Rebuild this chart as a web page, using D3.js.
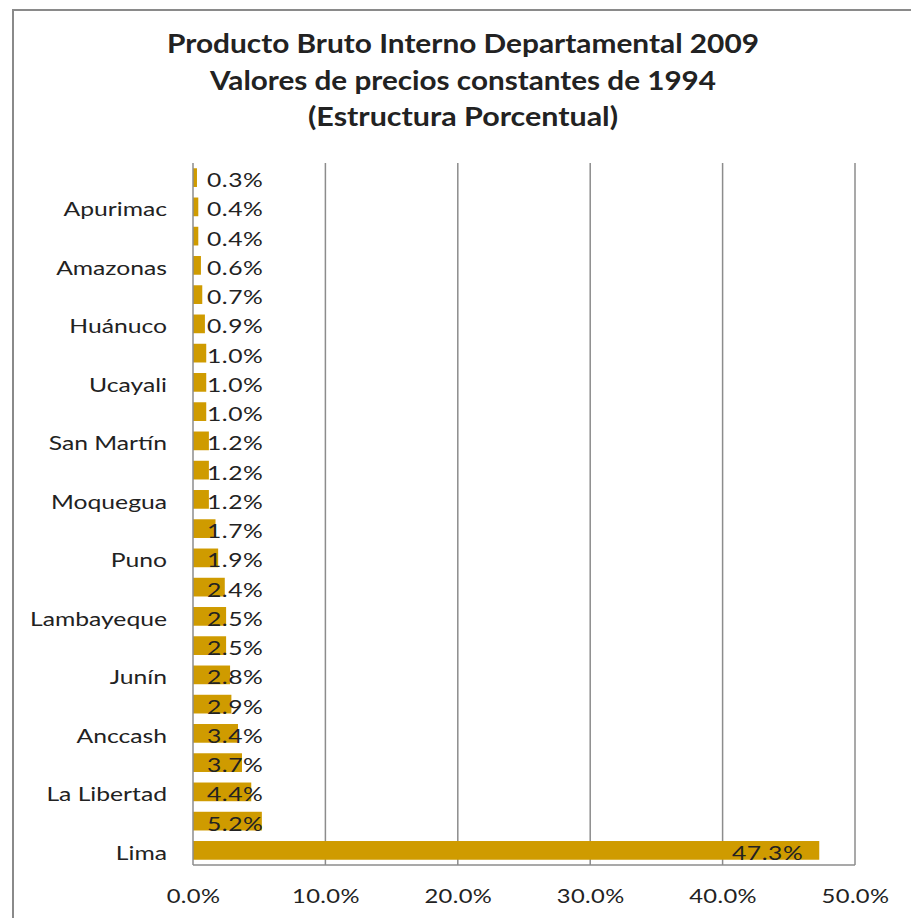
<!DOCTYPE html>
<html>
<head>
<meta charset="utf-8">
<script src="https://cdn.jsdelivr.net/npm/d3@7"></script>
<style>
  html, body { margin: 0; padding: 0; background: #fff; }
  svg { display: block; }
  text { font-family: Lato, "Open Sans", sans-serif; fill: #222; }
</style>
</head>
<body>
<script>
// Categories from top to bottom
const departamentos = [
  "Madre de Dios", "Apurimac", "Tumbes", "Amazonas", "Huancavelica", "Huánuco",
  "Ayacucho", "Ucayali", "Pasco", "San Martín", "Tacna", "Moquegua",
  "Loreto", "Puno", "Cajamarca", "Lambayeque", "Cusco", "Junín",
  "Ica", "Anccash", "Piura", "La Libertad", "Arequipa", "Lima"
];
const porcentajes = [
  0.3, 0.4, 0.4, 0.6, 0.7, 0.9,
  1.0, 1.0, 1.0, 1.2, 1.2, 1.2,
  1.7, 1.9, 2.4, 2.5, 2.5, 2.8,
  2.9, 3.4, 3.7, 4.4, 5.2, 47.3
];
// Only every other category label is shown on the axis
const etiquetasVisibles = [
  "Apurimac", "Amazonas", "Huánuco", "Ucayali", "San Martín", "Moquegua",
  "Puno", "Lambayeque", "Junín", "Anccash", "La Libertad", "Lima"
];
const xTicks = [0, 10, 20, 30, 40, 50];
const titulo = [
  "Producto Bruto Interno Departamental 2009",
  "Valores de precios constantes de 1994",
  "(Estructura Porcentual)"
];

const W = 911, H = 918;
const plot = { left: 193, right: 855, top: 163, bottom: 865 };
const barColor = "#CF9B00";
const gridColor = "#8c8c8c";
const SX = 1.3; // horizontal stretch of small texts

const svg = d3.select("body").append("svg").attr("width", W).attr("height", H);

// outer chart border
svg.append("rect").attr("x", 13).attr("y", 10).attr("width", W + 20).attr("height", H + 20)
  .attr("fill", "#fff").attr("stroke", "#8a8a8a").attr("stroke-width", 2);

// title
const titleWidths = [592, 506, 310];
const titleY = [53, 90, 126];
titulo.forEach((t, i) => {
  svg.append("text").attr("x", 463).attr("y", titleY[i])
    .attr("text-anchor", "middle")
    .style("font-weight", "bold").style("font-size", "26px")
    .attr("textLength", titleWidths[i]).attr("lengthAdjust", "spacingAndGlyphs")
    .text(t);
});

const x = d3.scaleLinear().domain([0, 50]).range([plot.left, plot.right]);
const y = d3.scaleBand().domain(departamentos).range([plot.top, plot.bottom]).paddingInner(0.36).paddingOuter(0.18);

// gridlines
const gGrid = svg.append("g");
gGrid.selectAll("line").data(xTicks.slice(1)).join("line")
  .attr("x1", d => x(d)).attr("x2", d => x(d))
  .attr("y1", plot.top).attr("y2", plot.bottom)
  .attr("stroke", gridColor).attr("stroke-width", 1.5);

// bars
svg.append("g").selectAll("rect").data(departamentos).join("rect")
  .attr("x", x(0))
  .attr("y", (d) => y(d))
  .attr("width", (d, i) => x(porcentajes[i]) - x(0))
  .attr("height", y.bandwidth())
  .attr("fill", barColor);

// axes lines
svg.append("line").attr("x1", plot.left).attr("x2", plot.left).attr("y1", plot.top).attr("y2", plot.bottom)
  .attr("stroke", gridColor).attr("stroke-width", 1.5);
svg.append("line").attr("x1", plot.left).attr("x2", plot.right).attr("y1", plot.bottom).attr("y2", plot.bottom)
  .attr("stroke", gridColor).attr("stroke-width", 1.5);

// x axis tick labels
const xAxis = d3.axisBottom(x).tickValues(xTicks).tickSize(0).tickPadding(0)
  .tickFormat(d => d.toFixed(1) + "%");
const gx = svg.append("g").attr("transform", `translate(0,${plot.bottom})`).call(xAxis);
gx.select(".domain").remove();
gx.selectAll("text").attr("dy", null).attr("y", 38)
  .attr("transform", `scale(${1.25},1)`)
  .style("font-size", "19px").style("letter-spacing", "0.3px").attr("fill", "#222");

// y axis labels
const yAxis = d3.axisLeft(y).tickSize(0).tickPadding(26)
  .tickFormat(d => etiquetasVisibles.includes(d) ? d : "");
const gy = svg.append("g").attr("transform", `translate(${plot.left},0)`).call(yAxis);
gy.select(".domain").remove();
gy.selectAll("text").attr("dy", "0.5em").attr("x", -26 / SX)
  .attr("transform", `scale(${SX},1)`)
  .style("font-size", "19px").attr("fill", "#222");

// data labels
const gl = svg.append("g");
departamentos.forEach((d, i) => {
  const v = porcentajes[i];
  const t = gl.append("text")
    .attr("dy", "0.5em")
    .style("font-size", "19px").style("letter-spacing", "0.4px")
    .text(v.toFixed(1) + "%");
  const w = t.node().getComputedTextLength() * SX;
  const xEnd = x(v);
  const xs = Math.max(x(0) + 14, xEnd - 16 - w);
  t.attr("transform", `translate(${xs},${y(d) + y.bandwidth() / 2}) scale(${SX},1)`);
});
</script>
</body>
</html>
